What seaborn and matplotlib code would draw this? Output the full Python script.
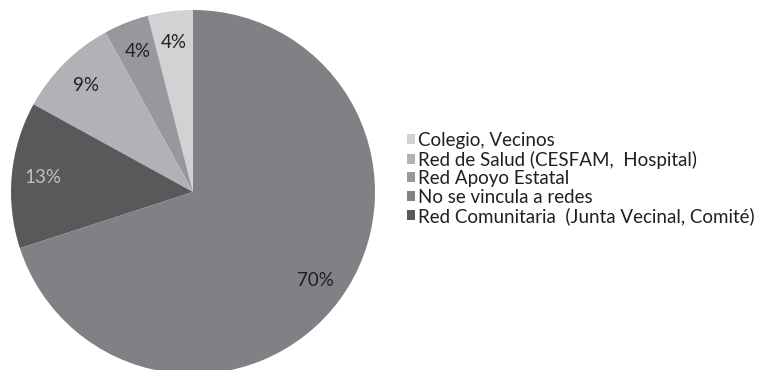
import matplotlib
matplotlib.use("Agg")
import matplotlib.pyplot as plt
from matplotlib.patches import Patch
import seaborn as sns

# Pie slices, in drawing order (counter-clockwise from 12 o'clock)
categories = [
    "Colegio, Vecinos",
    "Red Apoyo Estatal",
    "Red de Salud (CESFAM,  Hospital)",
    "Red Comunitaria  (Junta Vecinal, Comité)",
    "No se vincula a redes",
]
values = [4, 4, 9, 13, 70]
slice_colors = ["#d1d2d4", "#97989b", "#b1b2b5", "#58595b", "#808184"]
label_colors = ["#231f20", "#231f20", "#231f20", "#bcbec0", "#231f20"]

# Legend order
legend_order = [
    "Colegio, Vecinos",
    "Red de Salud (CESFAM,  Hospital)",
    "Red Apoyo Estatal",
    "No se vincula a redes",
    "Red Comunitaria  (Junta Vecinal, Comité)",
]

sns.set_theme(style="white")
plt.rcParams["font.family"] = ["Lato", "DejaVu Sans"]

palette = sns.color_palette(slice_colors)

fig = plt.figure(figsize=(7.59, 3.70), dpi=100)
ax = fig.add_axes([11 / 759, -4 / 370, 364 / 759, 364 / 370])

wedges, texts, autotexts = ax.pie(
    values,
    colors=palette,
    startangle=90,
    counterclock=True,
    radius=1.0,
    autopct=lambda p: f"{p:.0f}%",
    pctdistance=0.83,
    wedgeprops=dict(linewidth=0),
    textprops=dict(fontsize=13.5),
)
for t, c in zip(autotexts, label_colors):
    t.set_color(c)

ax.set_xlim(-1, 1)
ax.set_ylim(-1, 1)
ax.set_aspect("equal")
ax.axis("off")

color_of = dict(zip(categories, palette))
handles = [Patch(facecolor=color_of[name], edgecolor="none", label=name)
           for name in legend_order]
fig.legend(
    handles=handles,
    loc="upper left",
    bbox_to_anchor=(407 / 759, 1 - 132 / 370),
    frameon=False,
    fontsize=13.5,
    handlelength=0.45,
    handleheight=0.45,
    handletextpad=0.12,
    labelspacing=0.08,
    borderpad=0,
    borderaxespad=0,
    labelcolor="#231f20",
)

fig.savefig("out.png", dpi=100, facecolor="white")
